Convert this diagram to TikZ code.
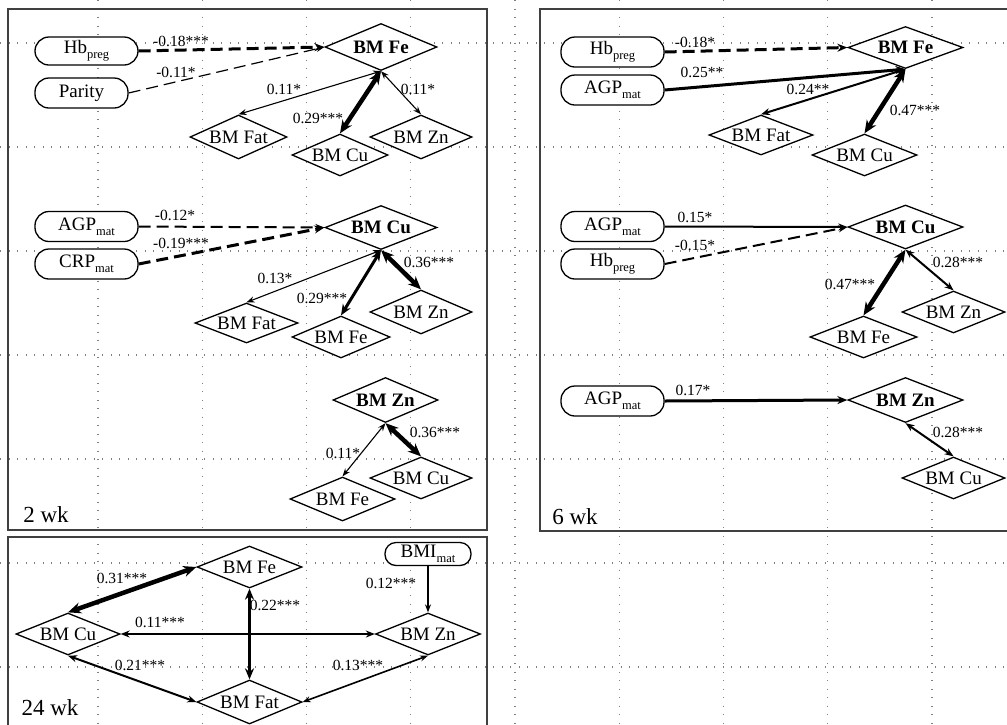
\documentclass[tikz,border=0pt]{standalone}
\usepackage{fontspec}
\setmainfont{Liberation Serif}
\usetikzlibrary{shapes.geometric,arrows.meta}
\newcommand{\sbx}[1]{\raisebox{-0.55ex}{\fontsize{12.5}{12.5}\selectfont #1}}
\tikzset{
 dia/.style={diamond, draw, line width=1.3pt, fill=white, inner sep=0pt, aspect=2.5, font=\fontsize{19}{19}\selectfont},
 bdia/.style={dia, font=\fontsize{19}{19}\selectfont\bfseries},
 var/.style={rectangle, rounded corners=14pt, draw, line width=1.3pt, fill=white, inner sep=0pt, minimum height=30pt, minimum width=103pt, font=\fontsize{19}{19}\selectfont},
 lab/.style={font=\fontsize{15.5}{15.5}\selectfont, inner sep=0pt},
 wklab/.style={font=\fontsize{23}{23}\selectfont, inner sep=0pt},
 frame/.style={draw=black!75, line width=1.8pt},
 gridline/.style={draw=black!50, line width=1.4pt, dash pattern=on 1.4pt off 7.1pt},
 bione/.style={line width=1.1pt, {Stealth[length=8pt,width=6pt]}-{Stealth[length=8pt,width=6pt]}},
 bitwo/.style={line width=2pt, {Stealth[length=9pt,width=7pt]}-{Stealth[length=9pt,width=7pt]}},
 bithree/.style={line width=3pt, {Stealth[length=11pt,width=9pt]}-{Stealth[length=11pt,width=9pt]}},
 bifour/.style={line width=4.5pt, {Stealth[length=13pt,width=11pt]}-{Stealth[length=13pt,width=11pt]}},
 uone/.style={line width=1.2pt, -{Stealth[length=8pt,width=6pt]}},
 utwo/.style={line width=2pt, -{Stealth[length=9pt,width=7pt]}},
 uthree/.style={line width=3pt, -{Stealth[length=10pt,width=8pt]}},
 dsh/.style={dash pattern=on 12pt off 6pt}
}
\begin{document}
\begin{tikzpicture}[x=1pt,y=-1pt]
\useasboundingbox (0,0) rectangle (1007,724);
\clip (0,0) rectangle (1007,724);
% grid
\foreach \gx in {98,202.25,306.5,410.75,515,619.25,723.5,827.75,932}
  \draw[gridline] (\gx,0) -- (\gx,724);
\foreach \gy in {43,147,251,355,459,563,667}
  \draw[gridline] (0,\gy) -- (1007,\gy);
% frames
\draw[frame] (8,9) rectangle (487,530);
\draw[frame] (540,9) rectangle (1015,531);
\draw[frame] (8,537) rectangle (487,735);

% ===== 2 wk, block 1
\node[var, minimum height=28pt] (hbA) at (86.5,51) {Hb\sbx{preg}};
\node[var, minimum width=93pt] (par) at (81.5,93) {Parity};
\node[bdia, minimum width=112pt, minimum height=47pt] (feA) at (381,47) {BM Fe};
\node[dia, minimum width=97pt, minimum height=44pt] (fatA) at (238.5,137) {BM Fat};
\node[dia, minimum width=96pt, minimum height=42pt] (cuA) at (340,155) {BM Cu};
\node[dia, minimum width=102pt, minimum height=44pt] (znA) at (421,137) {BM Zn};
\draw[uthree,dsh] (hbA.east) -- (feA.west);
\draw[uone,dsh] (par.east) -- (feA.west);
\draw[bione] (feA.south) -- (fatA.north);
\draw[bifour] (feA.south) -- (cuA.north);
\draw[bione] (feA.south) -- (znA.north);
\node[lab] (lA1) at (181,41) {-0.18***};
\node[lab] (lA2) at (176,72) {-0.11*};
\node[lab] (lA3) at (284,89) {0.11*};
\node[lab] (lA4) at (318,118) {0.29***};
\node[lab] (lA5) at (418,89) {0.11*};

% ===== 2 wk, block 2
\node[var] (agpB) at (86.5,226.5) {AGP\sbx{mat}};
\node[var] (crpB) at (86.5,264) {CRP\sbx{mat}};
\node[bdia, minimum width=112pt, minimum height=44pt] (cuB) at (381,227.5) {BM Cu};
\node[dia, minimum width=103pt, minimum height=40pt] (fatB) at (246.5,323) {BM Fat};
\node[dia, minimum width=98pt, minimum height=42pt] (feB) at (341,337) {BM Fe};
\node[dia, minimum width=102pt, minimum height=44pt] (znB) at (421,312) {BM Zn};
\draw[utwo,dsh] (agpB.east) -- (cuB.west);
\draw[uthree,dsh] (crpB.east) -- (cuB.west);
\draw[bione] (cuB.south) -- (fatB.north);
\draw[bithree] (cuB.south) -- (feB.north);
\draw[bifour] (cuB.south) -- (znB.north);
\node[lab] (lB1) at (175,215) {-0.12*};
\node[lab] (lB2) at (181,243) {-0.19***};
\node[lab] (lB3) at (275,278) {0.13*};
\node[lab] (lB4) at (322,298) {0.29***};
\node[lab] (lB5) at (429,262) {0.36***};

% ===== 2 wk, block 3
\node[bdia, minimum width=105pt, minimum height=45pt] (znC) at (385.5,400) {BM Zn};
\node[dia, minimum width=105pt, minimum height=44pt] (feC) at (342.5,499) {BM Fe};
\node[dia, minimum width=102pt, minimum height=42pt] (cuC) at (421,478) {BM Cu};
\draw[bione] (znC.south) -- (feC.north);
\draw[bifour] (znC.south) -- (cuC.north);
\node[lab] (lC1) at (343,453) {0.11*};
\node[lab] (lC2) at (435,432) {0.36***};
\node[wklab] (wk2) at (46,515) {2 wk};

% ===== 6 wk, block 1
\node[var] (hbD) at (612.5,52) {Hb\sbx{preg}};
\node[var] (agpD) at (612.5,90) {AGP\sbx{mat}};
\node[bdia, minimum width=115pt, minimum height=42pt] (feD) at (905.5,47.5) {BM Fe};
\node[dia, minimum width=104pt, minimum height=40pt] (fatD) at (761,135) {BM Fat};
\node[dia, minimum width=105pt, minimum height=42pt] (cuD) at (864.5,155) {BM Cu};
\draw[uthree,dsh] (hbD.east) -- (feD.west);
\draw[uthree] (agpD.east) -- (feD.south);
\draw[bitwo] (feD.south) -- (fatD.north);
\draw[bifour] (feD.south) -- (cuD.north);
\node[lab] (lD1) at (695,42) {-0.18*};
\node[lab] (lD2) at (702,72) {0.25**};
\node[lab] (lD3) at (808,89) {0.24**};
\node[lab] (lD4) at (915,110) {0.47***};

% ===== 6 wk, block 2
\node[var] (agpE) at (612.5,226.5) {AGP\sbx{mat}};
\node[var] (hbE) at (612.5,264) {Hb\sbx{preg}};
\node[bdia, minimum width=115pt, minimum height=44pt] (cuE) at (905.5,227) {BM Cu};
\node[dia, minimum width=107pt, minimum height=42pt] (feE) at (863.5,337) {BM Fe};
\node[dia, minimum width=103pt, minimum height=42pt] (znE) at (953.5,312) {BM Zn};
\draw[utwo] (agpE.east) -- (cuE.west);
\draw[utwo,dsh] (hbE.east) -- (cuE.west);
\draw[bifour] (cuE.south) -- (feE.north);
\draw[bitwo] (cuE.south) -- (znE.north);
\node[lab] (lE1) at (695,217) {0.15*};
\node[lab] (lE2) at (695,245) {-0.15*};
\node[lab] (lE3) at (850,284) {0.47***};
\node[lab] (lE4) at (958,262) {0.28***};

% ===== 6 wk, block 3
\node[var] (agpF) at (612.5,401) {AGP\sbx{mat}};
\node[bdia, minimum width=115pt, minimum height=45pt] (znF) at (905.5,400) {BM Zn};
\node[dia, minimum width=103pt, minimum height=42pt] (cuF) at (953.5,478) {BM Cu};
\draw[uthree] (agpF.east) -- (znF.west);
\draw[bitwo] (znF.south) -- (cuF.north);
\node[lab] (lF1) at (693,390) {0.17*};
\node[lab] (lF2) at (958,432) {0.28***};
\node[wklab] (wk6) at (575,517) {6 wk};

% ===== 24 wk
\node[dia, minimum width=105pt, minimum height=42pt] (feG) at (249.5,567) {BM Fe};
\node[dia, minimum width=104pt, minimum height=42pt] (cuG) at (68,634) {BM Cu};
\node[dia, minimum width=105pt, minimum height=42pt] (znG) at (428,634) {BM Zn};
\node[dia, minimum width=105pt, minimum height=44pt] (fatG) at (249.5,702) {BM Fat};
\node[var, minimum width=86pt, minimum height=23pt, rounded corners=11pt] (bmi) at (428,554) {BMI\sbx{mat}};
\draw[bifour] (feG.west) -- (cuG.north);
\draw[bithree] (feG.south) -- (fatG.north);
\draw[bitwo] (cuG.east) -- (znG.west);
\draw[bitwo] (cuG.south) -- (fatG.west);
\draw[bione, line width=1.6pt] (znG.south) -- (fatG.east);
\draw[uone] (bmi.south) -- (znG.north);
\node[lab] (lG1) at (122,578) {0.31***};
\node[lab] (lG2) at (275,605) {0.22***};
\node[lab] (lG3) at (160,622) {0.11***};
\node[lab] (lG4) at (140,665) {0.21***};
\node[lab] (lG5) at (358,665) {0.13***};
\node[lab] (lG6) at (391,583) {0.12***};
\node[wklab] (wk24) at (50,708) {24 wk};
\end{tikzpicture}
\end{document}
